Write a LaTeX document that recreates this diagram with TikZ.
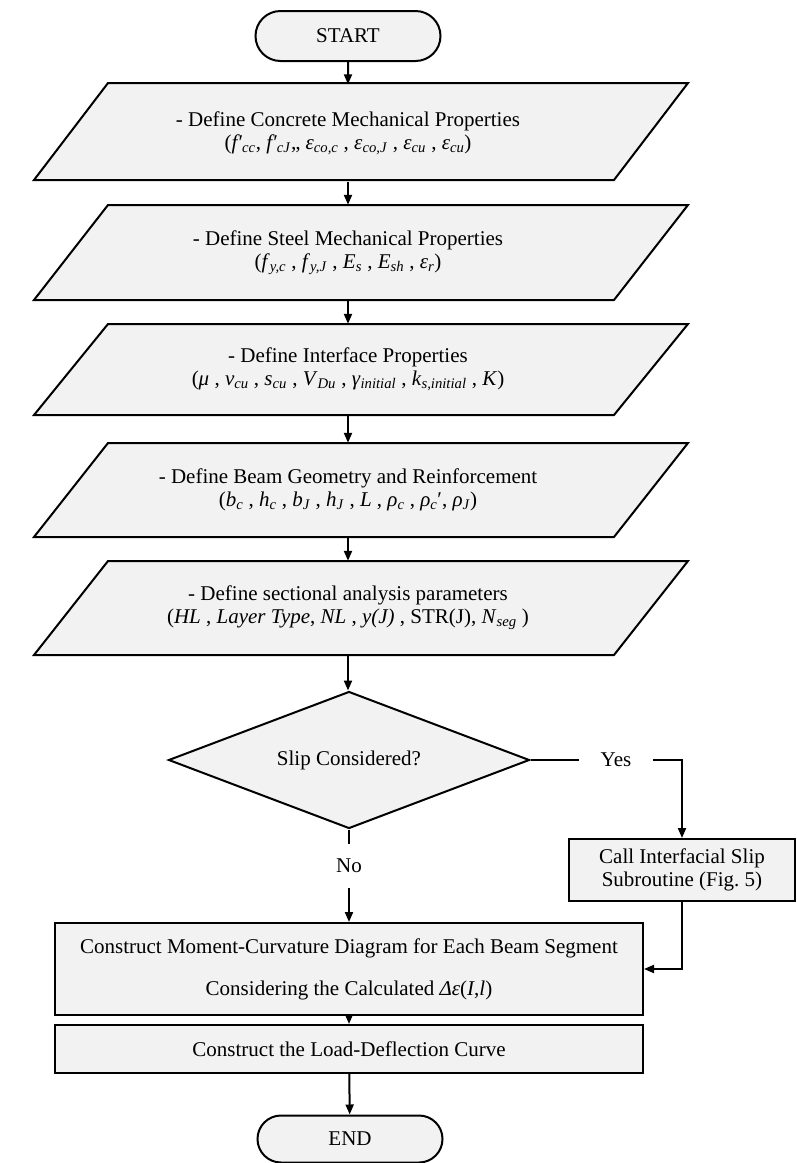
\documentclass[tikz,border=0pt]{standalone}
\usepackage{fontspec}
\setmainfont{Liberation Serif}
\usetikzlibrary{arrows.meta,shapes.geometric,shapes.misc}
\definecolor{fillc}{HTML}{F2F2F2}
\newcommand\sbs[1]{\textsubscript{\textit{#1}}}
\newcommand\para[2]{\draw[pshape] (108,#1) -- (688,#1) -- (614,#2) -- (34,#2) -- cycle;}
\begin{document}
\begin{tikzpicture}[x=1pt,y=-1pt,
  font=\fontsize{21}{23}\selectfont,
  lw/.style={line width=2pt},
  arr/.style={line width=2pt,-{Triangle[length=10pt,width=8pt]}},
  term/.style={rounded rectangle, draw, line width=2pt, fill=fillc, minimum width=185pt, minimum height=50pt, inner sep=0pt},
  proc/.style={rectangle, draw, line width=2pt, fill=fillc, align=center, inner sep=0pt},
  pshape/.style={draw, line width=2pt, fill=fillc, line join=miter},
  ptext/.style={align=center, inner sep=0pt, minimum width=10pt},
  lbl/.style={inner sep=0pt}]
\useasboundingbox (0,0) rectangle (796,1163);

\node[term] (start) at (348,36) {START};

\para{83}{180}
\node[ptext, minimum height=97pt] (p1) at (348,133)
  {- Define Concrete Mechanical Properties\\
   (\textit{f′}\sbs{cc}, \textit{f′}\sbs{cJ},, \textit{ε}\sbs{co,c} , \textit{ε}\sbs{co,J} , \textit{ε}\sbs{cu} , \textit{ε}\sbs{cu})};

\para{205}{300}
\node[ptext, minimum height=95pt] (p2) at (348,252.5)
  {- Define Steel Mechanical Properties\\
   (\textit{f}\sbs{y,c} , \textit{f}\sbs{y,J} , \textit{E}\sbs{s} , \textit{E}\sbs{sh} , \textit{ε}\sbs{r})};

\para{324}{415}
\node[ptext, minimum height=91pt] (p3) at (348,369.5)
  {- Define Interface Properties\\
   (\textit{μ} , \textit{ν}\sbs{cu} , \textit{s}\sbs{cu} , \textit{V}\sbs{Du} , \textit{γ}\sbs{initial} , \textit{k}\sbs{s,initial} , \textit{K})};

\para{443}{537}
\node[ptext, minimum height=94pt] (p4) at (348,490)
  {- Define Beam Geometry and Reinforcement\\
   (\textit{b}\sbs{c} , \textit{h}\sbs{c} , \textit{b}\sbs{J} , \textit{h}\sbs{J} , \textit{L} , \textit{ρ}\sbs{c} , \textit{ρ}\sbs{c}′, \textit{ρ}\sbs{J})};

\para{561}{655}
\node[ptext, minimum height=94pt] (p5) at (348,608)
  {- Define sectional analysis parameters\\
   (\textit{HL} , \textit{Layer Type}, \textit{NL} ,  \textit{y(J)} , STR(J), \textit{N}\sbs{seg} )};

\node[diamond, draw, line width=2pt, fill=fillc, aspect=2.6, minimum width=361pt, minimum height=137pt, inner sep=0pt] (d) at (349,760) {Slip Considered?};

\node[lbl, inner xsep=22pt] (yes) at (616,760) {Yes};
\node[proc, minimum width=226pt, minimum height=62pt] (slip) at (682,870) {Call Interfacial Slip\\Subroutine (Fig.~5)};
\node[lbl, inner ysep=15pt] (no) at (349,866) {No};

\node[proc, minimum width=588pt, minimum height=92pt, font=\fontsize{21}{42}\selectfont] (mom) at (349,969)
  {Construct Moment-Curvature Diagram for Each Beam Segment\\
   Considering the Calculated \textit{Δε}(\textit{I},\textit{l})};
\node[proc, minimum width=588pt, minimum height=48pt] (load) at (349,1049) {Construct the Load-Deflection Curve};
\node[term, minimum height=47pt] (end) at (350,1139) {END};

\draw[arr] (start) -- (p1);
\draw[arr] (p1) -- (p2);
\draw[arr] (p2) -- (p3);
\draw[arr] (p3) -- (p4);
\draw[arr] (p4) -- (p5);
\draw[arr] (p5.south) -- (p5.south |- d.north);
\draw[lw] (d.east) -- (yes.west);
\draw[arr] (yes.east) -| (slip.north);
\draw[lw] (d.south) -- (no.north);
\draw[arr] (no.south) -- (no.south |- mom.north);
\draw[arr] (slip.south) |- (mom.east);
\draw[arr] (mom.south -| load.north) -- (load.north);
\draw[arr] (load) -- (end);
\end{tikzpicture}
\end{document}
